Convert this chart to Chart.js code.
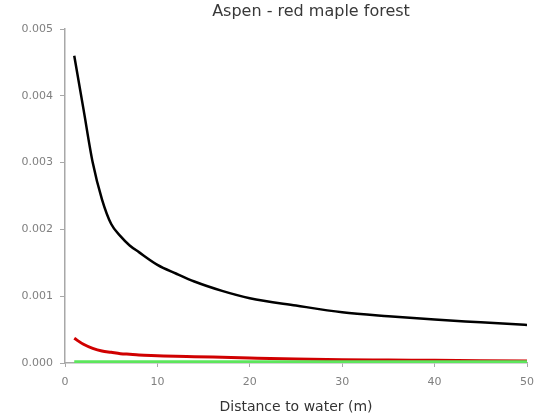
<!DOCTYPE html>
<html>
<head>
<meta charset="utf-8">
<script src="https://cdn.jsdelivr.net/npm/chart.js@4"></script>
<style>
    html, body { margin: 0; padding: 0; background: #fff; }
    #wrap { width: 540px; height: 420px; }
</style>
</head>
<body>
<div id="wrap"><canvas id="chart1" width="540" height="420"></canvas></div>
<script>
// distance to water (m)
const distance = [1, 2, 3, 4, 5, 6, 7, 8, 10, 12, 14, 17, 20, 25, 30, 35, 40, 45, 50];

const blackCurve = [0.0046, 0.0038, 0.0030, 0.00245, 0.00208, 0.0019, 0.00176, 0.00166, 0.00147, 0.00134,
    0.00122, 0.00108, 0.00097, 0.00086, 0.00076, 0.0007, 0.00065, 0.00061, 0.00057];
const redCurve = [0.00037, 0.00028, 0.00022, 0.00018, 0.00016, 0.00014, 0.00013, 0.00012, 0.00011, 0.0001,
    0.000095, 0.000085, 0.000075, 0.00006, 0.00005, 0.000045, 0.00004, 0.000035, 0.00003];
const greenCurve = [0.00001, 0.00001, 0.00001, 0.00001, 0.00001, 0.00001, 0.00001, 0.00001, 0.00001, 0.00001,
    0.00001, 0.00001, 0.00001, 0.00001, 0.00001, 0.00001, 0.00001, 0.00001, 0.00001];

const xTicks = [0, 10, 20, 30, 40, 50];
const yTicks = [0, 0.001, 0.002, 0.003, 0.004, 0.005];

function points(ys) {
    return distance.map((d, i) => ({x: d, y: ys[i]}));
}

// push the chart title to the right, over the plot
const titleShift = {
    id: 'titleShift',
    afterLayout(chart) {
        chart.titleBlock.left += 82;
    }
};

function makeChart() {
    const ctx = document.getElementById('chart1');
    const axisGrey = '#a8a8a8';
    const font = 'DejaVu Sans';

    new Chart(ctx, {
        type: 'line',
        data: {
            datasets: [{
                data: points(greenCurve),
                borderColor: '#5de65d',
                borderWidth: 4,
                pointRadius: 0,
                cubicInterpolationMode: 'monotone'
            }, {
                data: points(redCurve),
                borderColor: '#d00000',
                borderWidth: 3,
                pointRadius: 0,
                cubicInterpolationMode: 'monotone'
            }, {
                data: points(blackCurve),
                borderColor: '#000000',
                borderWidth: 2.5,
                pointRadius: 0,
                cubicInterpolationMode: 'monotone'
            }]
        },
        plugins: [titleShift],
        options: {
            responsive: false,
            animation: false,
            layout: { padding: 0 },
            scales: {
                x: {
                    type: 'linear',
                    min: xTicks[0],
                    max: xTicks[xTicks.length - 1],
                    afterFit: s => {
                        s.height = 57;
                        s.paddingRight = 13;
                    },
                    afterBuildTicks: s => { s.ticks = xTicks.map(v => ({value: v})); },
                    grid: { drawOnChartArea: false, drawTicks: true, tickLength: 4, color: axisGrey },
                    border: { color: axisGrey, width: 1.5 },
                    ticks: { color: '#808080', font: { family: font, size: 11 }, padding: 9 },
                    title: {
                        display: true,
                        text: 'Distance to water (m)',
                        color: '#333',
                        font: { family: font, size: 14 },
                        padding: { top: 4, bottom: 4 }
                    }
                },
                y: {
                    min: yTicks[0],
                    max: yTicks[yTicks.length - 1],
                    afterFit: s => { s.width = 65; },
                    afterBuildTicks: s => { s.ticks = yTicks.map(v => ({value: v})); },
                    grid: { drawOnChartArea: false, drawTicks: true, tickLength: 5, color: axisGrey },
                    border: { color: axisGrey, width: 1.5 },
                    ticks: {
                        color: '#808080',
                        font: { family: font, size: 11 },
                        padding: 7,
                        callback: v => v.toFixed(3)
                    }
                }
            },
            plugins: {
                legend: { display: false },
                tooltip: { enabled: false },
                title: {
                    display: true,
                    text: 'Aspen - red maple forest',
                    color: '#383838',
                    font: { family: font, size: 16, weight: 'normal' },
                    padding: { top: 2, bottom: 7.8 }
                }
            }
        }
    });
}

document.addEventListener('DOMContentLoaded', () => {
    makeChart();
});
</script>
</body>
</html>
